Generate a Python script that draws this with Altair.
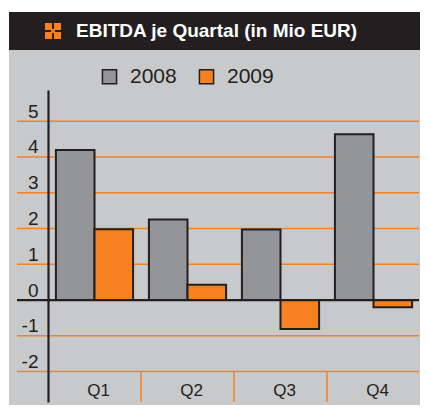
import altair as alt
import pandas as pd

# ---- data ----
quarters = ["Q1", "Q2", "Q3", "Q4"]
years = ["2008", "2009"]
ebitda_2008 = [4.19, 2.25, 1.97, 4.63]
ebitda_2009 = [1.98, 0.43, -0.81, -0.20]
grid_values = [-2, -1, 1, 2, 3, 4, 5]
y_tick_values = [-2, -1, 0, 1, 2, 3, 4, 5]
title_text = "EBITDA je Quartal (in Mio EUR)"

DARK = "#231f20"
GRAY_BG = "#c8c9cb"
BAR_GRAY = "#939598"
ORANGE = "#f5821f"
FONT = "Liberation Sans"

rows = []
for q, a, b in zip(quarters, ebitda_2008, ebitda_2009):
    rows.append({"quarter": q, "year": years[0], "value": a})
    rows.append({"quarter": q, "year": years[1], "value": b})
bars_df = pd.DataFrame(rows)
grid_df = pd.DataFrame({"grid": grid_values})
sep_df = pd.DataFrame({"quarter": quarters[1:]})
one = pd.DataFrame({"k": [0]})

W, H = 372, 312
PAD = {"left": 40, "top": 82, "right": 0, "bottom": 3}

y_scale = alt.Scale(domain=[-2.85, 5.87], nice=False, zero=False)
y_axis = alt.Axis(values=y_tick_values, grid=False, ticks=False, tickSize=0,
                  domain=True, domainColor=DARK, domainWidth=2.2,
                  labelFont=FONT, labelFontSize=19, labelColor=DARK,
                  labelPadding=10, labelBaseline="alphabetic", labelOffset=-4,
                  labelExpr="'' + datum.value",
                  title=None, zindex=1)
x_scale = alt.Scale(domain=quarters, paddingInner=0, paddingOuter=0)
x_axis = alt.Axis(domain=False, ticks=False, tickSize=0, labelAngle=0,
                  labelFont=FONT, labelFontSize=17, labelColor=DARK,
                  labelBaseline="middle", labelPadding=-12, labelOffset=4,
                  title=None, zindex=1)

panel = alt.Chart(one).mark_rect(color=GRAY_BG).encode(
    x=alt.value(-39), x2=alt.value(W), y=alt.value(-40), y2=alt.value(H + 3))
header = alt.Chart(one).mark_rect(color=DARK).encode(
    x=alt.value(-39), x2=alt.value(W), y=alt.value(-78), y2=alt.value(-40))
icon_path = ("M-1,-1H-0.12V-0.12H-1Z M0.12,-1H1V-0.12H0.12Z "
             "M-1,0.12H-0.12V1H-1Z M0.12,0.12H1V1H0.12Z "
             "M0,-0.3L0.3,0L0,0.3L-0.3,0Z")
icon = alt.Chart(one).mark_point(shape=icon_path, filled=True, color=ORANGE,
                                 size=256, opacity=1).encode(
    x=alt.value(5), y=alt.value(-59))
title = alt.Chart(one).mark_text(align="left", baseline="middle", color="white",
                                 font=FONT, fontWeight="bold", fontSize=19).encode(
    x=alt.value(28), y=alt.value(-59), text=alt.value(title_text))

grid = alt.Chart(grid_df).mark_rule(color=ORANGE, strokeWidth=1.5).encode(
    y=alt.Y("grid:Q", scale=y_scale, axis=y_axis),
    x=alt.value(-31), x2=alt.value(W - 1))

seps = alt.Chart(sep_df).mark_rule(color=ORANGE, strokeWidth=1.5).encode(
    x=alt.X("quarter:N", bandPosition=0, scale=x_scale, axis=x_axis),
    y=alt.datum(-2), y2=alt.value(H))

bars = alt.Chart(bars_df).mark_bar(stroke=DARK, strokeWidth=2).encode(
    x=alt.X("quarter:N", scale=x_scale, axis=x_axis),
    xOffset=alt.XOffset("year:N", scale=alt.Scale(paddingInner=0, paddingOuter=0.205)),
    y=alt.Y("value:Q", scale=y_scale, axis=y_axis),
    fill=alt.Fill("year:N", scale=alt.Scale(domain=years, range=[BAR_GRAY, ORANGE]),
                  legend=alt.Legend(orient="none", legendX=51, legendY=-24,
                                    direction="horizontal", title=None,
                                    symbolType="square", symbolSize=200,
                                    symbolStrokeColor=DARK, symbolStrokeWidth=1.5,
                                    labelFont=FONT, labelFontSize=21,
                                    labelColor=DARK, labelOffset=10,
                                    columnPadding=19, zindex=2)),
)

zero = alt.Chart(one).mark_rule(color=DARK, strokeWidth=2.2).encode(
    y=alt.datum(0), x=alt.value(-31), x2=alt.value(W - 1))

chart = alt.layer(panel, header, icon, title, grid, seps, bars, zero).properties(
    width=W, height=H, autosize="none", padding=PAD, background="white",
).configure_view(strokeWidth=0)

chart.save("out.html", embed_options={"renderer": "svg", "actions": False})
